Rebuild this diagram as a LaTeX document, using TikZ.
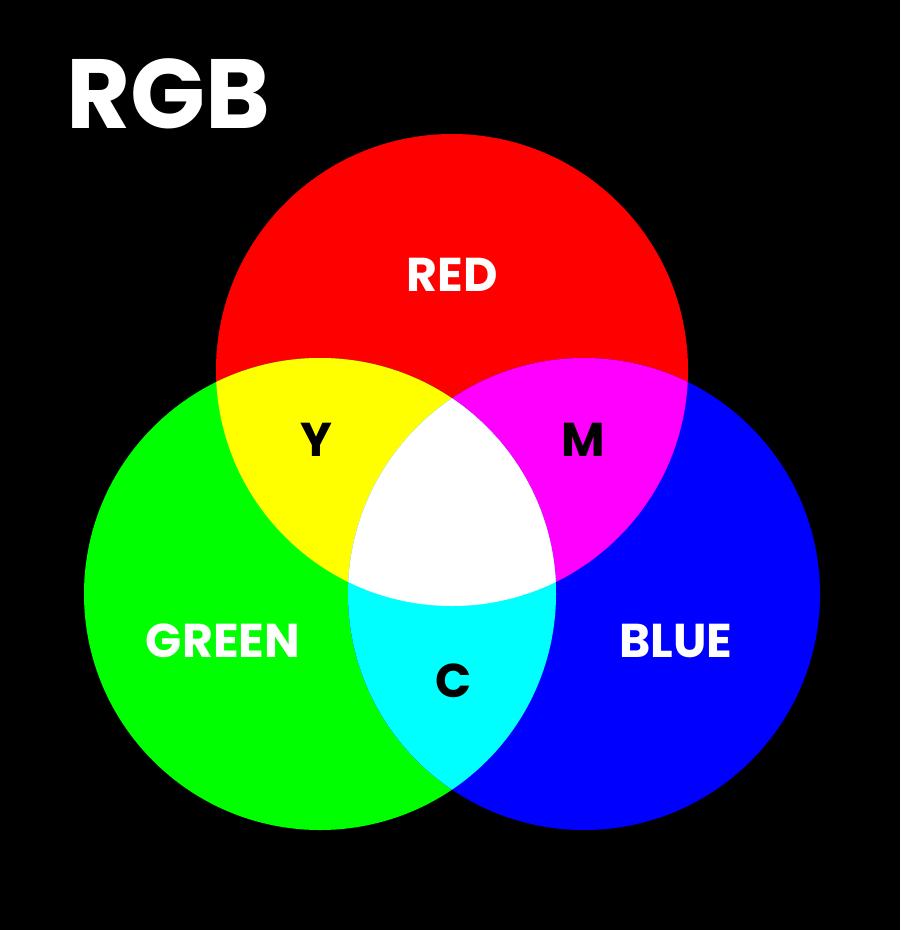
\documentclass[tikz,border=0pt]{standalone}
\usepackage{fontspec}
\setmainfont{Poppins}
\definecolor{giallo}{RGB}{255,255,0}
\definecolor{magenta}{RGB}{255,0,255}
\definecolor{ciano}{RGB}{0,255,255}
\definecolor{rosso}{RGB}{255,0,0}
\definecolor{verde}{RGB}{0,255,0}
\definecolor{blu}{RGB}{0,0,255}
\begin{document}
\begin{tikzpicture}[x=0.02cm, y=-0.02cm]
  % sfondo
  \fill[black] (0,0) rectangle (900,930);
  \useasboundingbox (0,0) rectangle (900,930);

  % cerchi
  \coordinate (r) at (452,370);
  \coordinate (g) at (320,594);
  \coordinate (b) at (584,594);
  \fill[rosso] (r) circle (236);
  \fill[verde] (g) circle (236);
  \fill[blu]   (b) circle (236);

  % intersezioni
  \begin{scope}
    \clip (r) circle (236);
    \fill[giallo] (g) circle (236);
    \fill[magenta] (b) circle (236);
    \clip (g) circle (236);
    \fill[white] (b) circle (236);
  \end{scope}
  \begin{scope}
    \clip (g) circle (236);
    \clip (b) circle (236);
    \fill[ciano] (b) circle (236);
    \clip (r) circle (236);
    \fill[white] (r) circle (236);
  \end{scope}

  % testi
  \node[white, font=\fontsize{56}{56}\selectfont\bfseries, anchor=west, inner sep=0] (titolo) at (66,94) {RGB};
  \node[white, font=\fontsize{27}{27}\selectfont\bfseries] (rosso) at (452,275) {RED};
  \node[white, font=\fontsize{27}{27}\selectfont\bfseries] (verde) at (223,641) {GREEN};
  \node[white, font=\fontsize{27}{27}\selectfont\bfseries] (blu) at (676,641) {BLUE};
  \node[black, font=\fontsize{27}{27}\selectfont\bfseries] (giallo) at (316,440) {Y};
  \node[black, font=\fontsize{27}{27}\selectfont\bfseries] (magenta) at (583,440) {M};
  \node[black, font=\fontsize{27}{27}\selectfont\bfseries] (ciano) at (454,681) {C};
\end{tikzpicture}
\end{document}
